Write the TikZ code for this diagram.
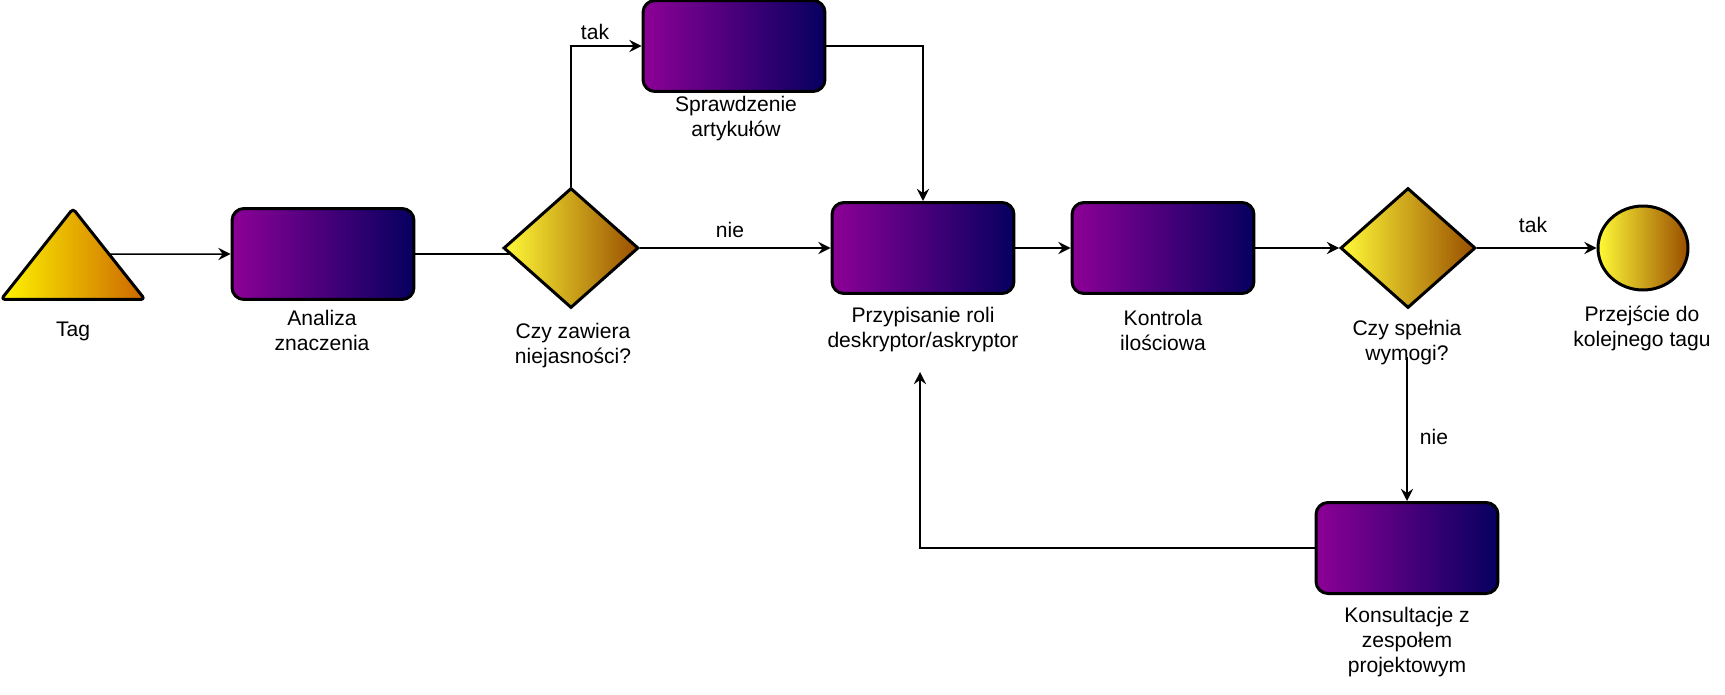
\documentclass[tikz,border=0pt]{standalone}
\usepackage{fontspec}
\setmainfont{Liberation Sans}
\usetikzlibrary{arrows.meta,shapes.geometric,calc}
\definecolor{boxL}{RGB}{140,0,150}
\definecolor{boxR}{RGB}{6,0,96}
\definecolor{decL}{RGB}{255,250,55}
\definecolor{decR}{RGB}{153,78,0}
\definecolor{trgL}{RGB}{255,245,0}
\definecolor{trgR}{RGB}{204,102,0}
\begin{document}
\begin{tikzpicture}[x=0.02cm, y=-0.02cm,
task/.style={draw, line width=0.06cm, rounded corners=0.24cm, minimum width=3.64cm, minimum height=1.82cm, left color=boxL, right color=boxR, inner sep=0pt},
gate/.style={diamond, draw, line width=0.06cm, minimum width=2.7cm, minimum height=2.4cm, left color=decL, right color=decR, inner sep=0pt},
endev/.style={ellipse, draw, line width=0.06cm, minimum width=1.8cm, minimum height=1.68cm, left color=decL, right color=decR, inner sep=0pt},
lbl/.style={align=center, font=\fontsize{12}{14.2}\selectfont, inner sep=0pt},
ln/.style={line width=0.03cm},
arr/.style={ln, -{Stealth[length=7pt, width=7pt, inset=2.5pt]}}]
\useasboundingbox (0,0) rectangle (1725,694);
\node[minimum width=2.86cm, minimum height=1.8cm, inner sep=0pt] (tag) at (73,254) {};
\draw[line width=0.06cm, left color=trgL, right color=trgR, rounded corners=2pt, line join=round] (tag.south west) -- (tag.north) -- (tag.south east) -- cycle;
\node[task] (an) at (323,254) {};
\node[gate] (d1) at (571,248) {};
\node[task] (sp) at (734,46) {};
\node[task] (pr) at (923,248) {};
\node[task] (ko) at (1163,248) {};
\node[gate] (d2) at (1408,248) {};
\node[endev] (en) at (1643,248) {};
\node[task] (ks) at (1407,548) {};
\node[lbl] (tagL) at (73,331) {Tag};
\node[lbl] (anL) at (322,330) {Analiza\\znaczenia};
\node[lbl] (d1L) at (573,346) {Czy zawiera\\niejasności?};
\node[lbl] (spL) at (736,119) {Sprawdzenie\\artykułów};
\node[lbl] (prL) at (923,330) {Przypisanie roli\\deskryptor/askryptor};
\node[lbl] (koL) at (1163,330) {Kontrola\\ilościowa};
\node[lbl] (d2L) at (1407,343) {Czy spełnia\\wymogi?};
\node[lbl] (enL) at (1642,328) {Przejście do\\kolejnego tagu};
\node[lbl] (ksL) at (1407,642) {Konsultacje z\\zespołem\\projektowym};
\node[lbl] (tak1) at (595,32) {tak};
\node[lbl] (nie1) at (730,230) {nie};
\node[lbl] (tak2) at (1533,225) {tak};
\node[lbl] (nie2) at (1434,437) {nie};
\coordinate (d2b) at (1407,357);
\coordinate (prb) at (920,372);
\draw[arr] ($(tag.north)!.5!(tag.south east)$) -- (an.west);
\draw[ln] (an.east) -- ($(d1.west)+(6.75,6)$);
\draw[arr] (d1.east) -- (pr.west);
\draw[arr] (d1.north) |- (sp.west);
\draw[arr] (sp.east) -| (pr.north);
\draw[arr] (pr.east) -- (ko.west);
\draw[arr] (ko.east) -- (d2.west);
\draw[arr] (d2.east) -- (en.west);
\draw[arr] (d2b) -- (ks.north);
\draw[arr] (ks.west) -| (prb);
\end{tikzpicture}
\end{document}
